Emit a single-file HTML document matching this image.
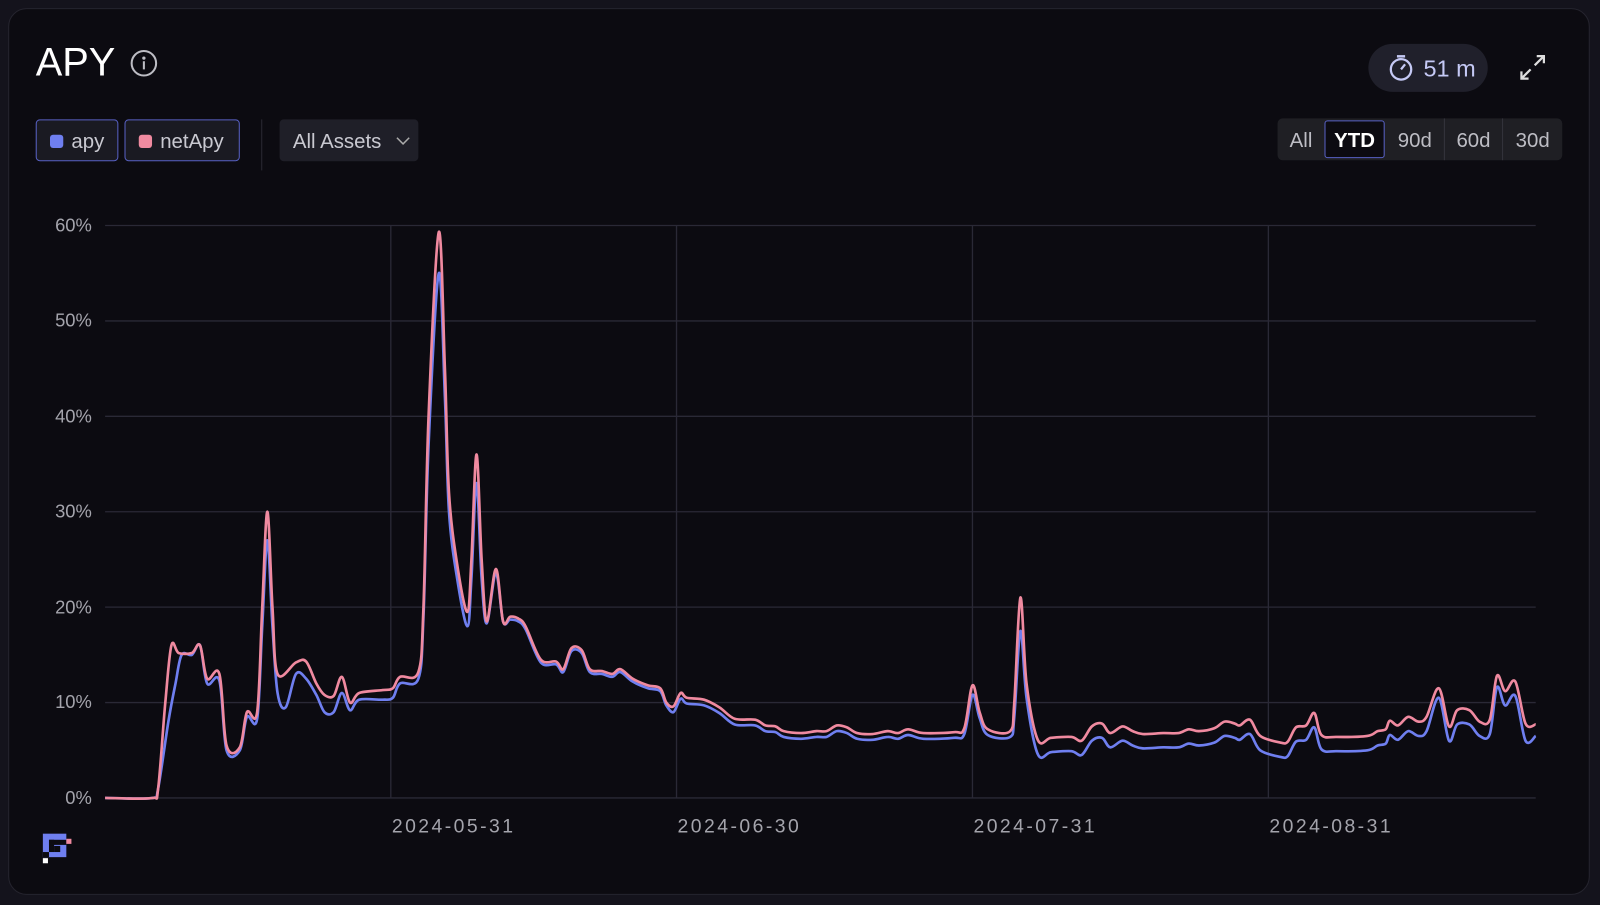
<!DOCTYPE html>
<html><head><meta charset="utf-8"><style>
html,body{margin:0;padding:0;background:#14131c;width:1600px;height:905px;overflow:hidden;font-family:"Liberation Sans",sans-serif}
#wrap{position:absolute;left:0;top:0;width:1568px;height:887px;transform:scale(1.020408);transform-origin:0 0}
.card{position:absolute;left:8px;top:8px;width:1548px;height:867px;background:#0c0b11;border:1px solid #25242e;border-radius:18px}
.abs{position:absolute}
.btn{position:absolute;top:117px;height:39px;background:#1a1a22;border:1px solid #5861c4;border-radius:4px;color:#c9c9d1;font-size:20px;line-height:43px;box-sizing:content-box}
.sq{position:absolute;left:13px;top:14px;width:13px;height:13px;border-radius:3px}
.rg{position:absolute;top:116px;height:41px;line-height:45px;color:#bdbdc4;font-size:20px;text-align:center}
.yl{position:absolute;right:1478px;font-size:18px;color:#a4a4ac;text-align:right;line-height:20px}
.xl{position:absolute;top:800px;font-size:19px;color:#a4a4ac;letter-spacing:2.4px}
</style></head><body><div id="wrap">
<div class="card"></div>
<div class="abs" style="left:35px;top:40px;font-size:39px;color:#fff;line-height:44px">APY</div>
<svg class="abs" style="left:127px;top:48px" width="28" height="28"><circle cx="14" cy="14" r="12" fill="none" stroke="#bdbdc4" stroke-width="2"/><circle cx="14" cy="9" r="1.6" fill="#bdbdc4"/><rect x="13" y="12" width="2" height="8" fill="#bdbdc4"/></svg>
<div class="btn" style="left:35px;width:79px"><div class="sq" style="background:#6f7ff0"></div><span style="position:absolute;left:34px">apy</span></div>
<div class="btn" style="left:122px;width:111px"><div class="sq" style="background:#f08aa0"></div><span style="position:absolute;left:34px">netApy</span></div>
<div class="abs" style="left:256px;top:117px;width:1px;height:50px;background:#2a2a33"></div>
<div class="abs" style="left:274px;top:117px;width:136px;height:41px;background:#1f1f28;border-radius:4px;color:#c9c9d1;font-size:20px;line-height:44px"><span style="position:absolute;left:13px">All Assets</span><svg style="position:absolute;left:114px;top:16px" width="14" height="10"><path d="M1 2 L7 8 L13 2" fill="none" stroke="#aaa" stroke-width="1.5"/></svg></div>
<div class="abs" style="left:1341px;top:43px;width:117px;height:47px;background:#20202b;border-radius:24px"></div>
<svg class="abs" style="left:1358px;top:52px" width="30" height="30"><circle cx="15" cy="16" r="10" fill="none" stroke="#c5c9f5" stroke-width="2.2"/><rect x="11" y="2" width="8" height="2.4" fill="#c5c9f5"/><path d="M15 16 L19 11" stroke="#c5c9f5" stroke-width="2.2"/></svg>
<div class="abs" style="left:1395px;top:52px;font-size:23px;color:#c5c9f5;line-height:30px">51 m</div>
<svg class="abs" style="left:1488px;top:52px" width="28" height="28"><g stroke="#ddd" stroke-width="2.2" fill="none"><path d="M16 12 L25 3 M18 3 L25 3 L25 10"/><path d="M12 16 L3 25 M3 18 L3 25 L10 25"/></g></svg>
<div class="abs" style="left:1252px;top:116px;width:279px;height:41px;background:#1f1f24;border-radius:5px"></div>
<div class="abs" style="left:1415px;top:116px;width:1px;height:41px;background:#34343c"></div>
<div class="abs" style="left:1472px;top:116px;width:1px;height:41px;background:#34343c"></div>
<div class="rg" style="left:1252px;width:46px">All</div>
<div class="abs" style="left:1298px;top:118px;width:57px;height:35px;border:1px solid #5861c4;border-radius:3px;background:#0c0b11;color:#fff;font-size:20px;line-height:39px;text-align:center;font-weight:bold">YTD</div>
<div class="rg" style="left:1358px;width:57px">90d</div>
<div class="rg" style="left:1416px;width:56px">60d</div>
<div class="rg" style="left:1473px;width:58px">30d</div>
<div class="yl" style="top:211px">60%</div>
<div class="yl" style="top:304px">50%</div>
<div class="yl" style="top:398px">40%</div>
<div class="yl" style="top:491px">30%</div>
<div class="yl" style="top:585px">20%</div>
<div class="yl" style="top:678px">10%</div>
<div class="yl" style="top:772px">0%</div>
<div class="xl" style="left:384px">2024-05-31</div>
<div class="xl" style="left:664px">2024-06-30</div>
<div class="xl" style="left:954px">2024-07-31</div>
<div class="xl" style="left:1244px">2024-08-31</div>
<svg class="abs" style="left:40px;top:815px" width="32" height="36"><rect x="2" y="2" width="23" height="23" fill="#6f7ff0"/><rect x="8" y="8" width="17" height="5" fill="#0c0b11"/><rect x="8" y="8" width="5" height="12" fill="#0c0b11"/><rect x="13" y="14" width="6" height="6" fill="#0c0b11"/><rect x="2" y="20" width="6" height="5" fill="#0c0b11"/><rect x="25" y="7" width="5" height="5" fill="#f08aa0"/><rect x="2" y="26" width="5" height="5" fill="#fff"/></svg>
<svg id="ch" class="abs" style="left:0;top:0" width="1568" height="887"></svg>
</div>
<script>
var NS="http://www.w3.org/2000/svg",svg=document.getElementById('ch');
function Y(v){return 782-v*9.35}
function add(t,a){var e=document.createElementNS(NS,t);for(var k in a)e.setAttribute(k,a[k]);svg.appendChild(e);return e}
for(var i=0;i<=6;i++){var y=Y(i*10);add('line',{x1:103,x2:1505,y1:y,y2:y,stroke:'#2a2936','stroke-width':1.3})}
[383,663,953,1243].forEach(function(x){add('line',{x1:x,x2:x,y1:221,y2:782,stroke:'#2a2936','stroke-width':1.3})});
var pink=[[103,0],[150,0],[155,1],[162,10],[168,16],[175,15.2],[188,15.2],[196,16],[203,12.5],[215,13],[222,5.5],[235,5.3],[242,9],[252,9],[257,20],[262,30],[267,20],[272,13],[290,14.2],[300,14.3],[310,12],[318,10.8],[327,10.7],[335,12.7],[343,10],[352,11],[375,11.3],[385,11.5],[392,12.7],[410,13.2],[415,20],[420,40],[430,59.3],[436,45],[440,32],[448,24.5],[458,19.5],[462,25],[467,36],[472,25],[477,18.5],[486,24],[493,18.5],[500,19],[508,18.8],[515,18],[530,14.5],[545,14.3],[552,13.5],[560,15.7],[570,15.5],[578,13.5],[590,13.3],[600,13],[608,13.5],[620,12.5],[635,11.8],[647,11.5],[653,10],[660,9.6],[667,11],[673,10.5],[690,10.3],[705,9.5],[720,8.3],[740,8.2],[750,7.6],[760,7.5],[768,7],[785,6.8],[800,7],[810,7],[820,7.6],[830,7.4],[840,6.8],[855,6.7],[870,7],[880,6.8],[890,7.2],[905,6.8],[935,6.9],[945,7.3],[953,11.8],[960,9],[968,7.2],[990,7],[994,10],[1000,21],[1006,12],[1017,6.1],[1030,6.3],[1050,6.4],[1060,6],[1070,7.5],[1080,7.8],[1088,6.8],[1100,7.5],[1110,7],[1120,6.7],[1140,6.8],[1155,6.8],[1165,7.2],[1175,7],[1190,7.3],[1200,8],[1210,7.8],[1215,7.6],[1225,8.2],[1235,6.5],[1255,5.8],[1262,5.9],[1270,7.4],[1280,7.6],[1288,8.9],[1295,6.6],[1310,6.4],[1340,6.5],[1350,7],[1358,7.2],[1362,8.1],[1370,7.6],[1380,8.5],[1390,8],[1398,8.5],[1410,11.5],[1420,7.5],[1428,9.2],[1440,9.2],[1450,8],[1460,8.2],[1467,12.8],[1475,11.2],[1485,12.2],[1495,7.8],[1505,7.7]];
var blue=[[103,0],[150,0],[155,1],[165,8],[172,12],[178,15],[188,15],[196,16],[203,12],[215,12.3],[222,5],[235,5],[242,8.5],[252,8.3],[257,18],[262,27],[267,18],[272,11],[280,9.5],[290,13],[300,12.5],[310,10.8],[318,9],[327,9],[335,11],[343,9.2],[352,10.3],[375,10.3],[385,10.5],[392,12],[410,12.5],[415,19],[420,37],[430,55],[436,42],[440,30],[448,23],[458,18],[462,23],[467,33],[472,23],[477,18.3],[486,23.5],[493,18.5]];
var sp={953:1,994:1.5,1000:3.5,1006:1.5,1410:1,1467:1.2,1495:1.8,1505:1.2};
pink.forEach(function(p){if(p[0]>493){var d=p[0]<655?0.3:p[0]<1008?0.6:1.5;if(sp[p[0]]!=null)d=sp[p[0]];blue.push([p[0],p[1]-d])}});
function path(pts){var P=pts.map(function(p){return[p[0],Y(p[1])]});var d='M'+P[0][0]+' '+P[0][1];
for(var i=0;i<P.length-1;i++){var p0=P[i-1]||P[i],p1=P[i],p2=P[i+1],p3=P[i+2]||p2,t=6;
var c1x=p1[0]+(p2[0]-p0[0])/t,c1y=p1[1]+(p2[1]-p0[1])/t,c2x=p2[0]-(p3[0]-p1[0])/t,c2y=p2[1]-(p3[1]-p1[1])/t;
c1x=Math.min(Math.max(c1x,p1[0]),p2[0]);c2x=Math.min(Math.max(c2x,p1[0]),p2[0]);
d+=' C'+c1x.toFixed(1)+' '+c1y.toFixed(1)+' '+c2x.toFixed(1)+' '+c2y.toFixed(1)+' '+p2[0]+' '+p2[1].toFixed(1)}return d}
add('path',{d:path(blue),fill:'none',stroke:'#6f7ff0','stroke-width':2.6,'stroke-linejoin':'round'});
add('path',{d:path(pink),fill:'none',stroke:'#f08aa0','stroke-width':2.6,'stroke-linejoin':'round'});
</script>
</body></html>
